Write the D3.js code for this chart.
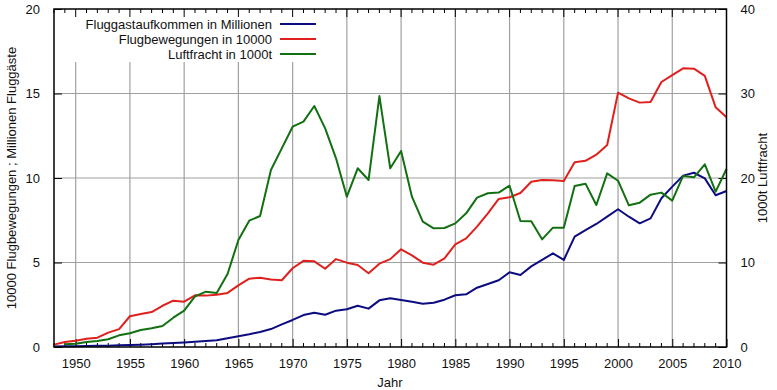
<!DOCTYPE html>
<html><head><meta charset="utf-8">
<script src="https://cdn.jsdelivr.net/npm/d3@7"></script>
<style>body{margin:0;background:#fff}svg{display:block}text{font-family:"Liberation Sans",Arial,sans-serif;font-size:13px;fill:#111}</style>
</head><body><svg id="c" width="777" height="390"></svg>
<script>
const years = d3.range(1948, 2011);
// Fluggastaufkommen in Millionen (left axis), 1948-2010
const passengers = [0.03,0.04,0.05,0.06,0.07,0.08,0.10,0.12,0.14,0.17,0.20,0.23,0.27,0.31,0.36,0.40,0.52,0.64,0.75,0.89,1.06,1.34,1.60,1.89,2.03,1.91,2.15,2.23,2.44,2.27,2.76,2.88,2.78,2.68,2.56,2.62,2.80,3.06,3.12,3.51,3.73,3.95,4.42,4.26,4.77,5.15,5.54,5.15,6.53,6.92,7.28,7.71,8.15,7.71,7.32,7.61,8.80,9.49,10.14,10.31,9.98,8.98,9.23];
// Flugbewegungen in 10000 (left axis), 1948-2010
const movements = [0.14,0.30,0.37,0.49,0.55,0.85,1.06,1.82,1.95,2.07,2.44,2.74,2.68,3.06,3.04,3.09,3.20,3.65,4.04,4.10,4.00,3.95,4.66,5.10,5.07,4.63,5.20,4.99,4.85,4.36,4.93,5.20,5.78,5.42,4.99,4.87,5.25,6.07,6.43,7.12,7.91,8.76,8.86,9.11,9.78,9.88,9.86,9.82,10.93,11.02,11.38,11.95,15.05,14.71,14.46,14.50,15.68,16.09,16.49,16.47,16.04,14.18,13.59];
// Luftfracht in 1000t (right axis), 1949-2010
const freightYears = d3.range(1949, 2011);
const freight = [0.32,0.39,0.59,0.71,0.91,1.38,1.62,2.01,2.21,2.49,3.47,4.30,6.00,6.55,6.39,8.64,12.66,14.95,15.50,20.95,23.50,26.07,26.67,28.52,25.88,22.33,17.79,21.15,19.76,29.70,21.15,23.20,17.79,14.83,14.04,14.08,14.63,15.82,17.67,18.19,18.27,19.09,14.91,14.87,12.74,14.12,14.12,19.05,19.33,16.80,20.55,19.68,16.77,17.08,18.03,18.27,17.32,20.24,20.08,21.62,18.38,21.07];
const xTicks = d3.range(1950, 2011, 5);
const yTicks = [0,5,10,15,20];
const y2Ticks = [0,10,20,30,40];
const legendLabels = ["Fluggastaufkommen in Millionen","Flugbewegungen in 10000","Luftfracht in 1000t"];
const colors = ["#0c0c80","#e0201c","#127012"];

const svg = d3.select("#c");
const L=54, R=726.5, T=9, B=347;
const x = d3.scaleLinear().domain([1948,2010]).range([L,R]);
const y = d3.scaleLinear().domain([0,20]).range([B,T]);
const y2 = d3.scaleLinear().domain([0,40]).range([B,T]);

// grid
const g = svg.append("g");
g.selectAll("line.v").data(xTicks.filter(d=>d<2010)).join("line")
  .attr("x1",d=>x(d)).attr("x2",d=>x(d)).attr("y1",T).attr("y2",B)
  .attr("stroke","#a0a0a0").attr("stroke-width",1.2);
g.selectAll("line.h").data(yTicks.filter(d=>d>0&&d<20)).join("line")
  .attr("x1",L).attr("x2",R).attr("y1",d=>y(d)).attr("y2",d=>y(d))
  .attr("stroke","#a0a0a0").attr("stroke-width",1.2);

// legend background
svg.append("rect").attr("x",62).attr("y",T+1).attr("width",262).attr("height",52).attr("fill","#fff");

// axes
const axB = d3.axisBottom(x).tickValues(xTicks).tickFormat(d3.format("d")).tickSizeInner(-8).tickSizeOuter(0).tickPadding(12);
const aB = svg.append("g").attr("transform",`translate(0,${B})`).call(axB);
const minor = years.filter(d=>d%5!==0);
svg.append("g").selectAll("line").data(minor).join("line")
  .attr("x1",d=>x(d)).attr("x2",d=>x(d)).attr("y1",B).attr("y2",B-4).attr("stroke","#000");
svg.append("g").selectAll("line").data(minor).join("line")
  .attr("x1",d=>x(d)).attr("x2",d=>x(d)).attr("y1",T).attr("y2",T+4).attr("stroke","#000");
svg.append("g").selectAll("line").data(xTicks).join("line")
  .attr("x1",d=>x(d)).attr("x2",d=>x(d)).attr("y1",T).attr("y2",T+8).attr("stroke","#000");
const axL = d3.axisLeft(y).tickValues(yTicks).tickSizeInner(-8).tickSizeOuter(0).tickPadding(14);
const aL = svg.append("g").attr("transform",`translate(${L},0)`).call(axL);
const axR = d3.axisRight(y2).tickValues(y2Ticks).tickSizeInner(-8).tickSizeOuter(0).tickPadding(14);
const aR = svg.append("g").attr("transform",`translate(${R},0)`).call(axR);
[aB,aL,aR].forEach(a=>{a.select(".domain").remove();a.selectAll("text").style("font-family","'Liberation Sans',Arial,sans-serif").style("font-size","13px").attr("fill","#111");a.selectAll("line").attr("stroke","#000");});

// lines
const line = (xs,ys,sc)=>d3.line().x((d,i)=>x(xs[i])).y(d=>sc(d));
svg.append("path").datum(passengers).attr("d",line(years,passengers,y)).attr("fill","none").attr("stroke",colors[0]).attr("stroke-width",2).attr("stroke-linejoin","round");
svg.append("path").datum(movements).attr("d",line(years,movements,y)).attr("fill","none").attr("stroke",colors[1]).attr("stroke-width",2).attr("stroke-linejoin","round");
svg.append("path").datum(freight).attr("d",line(freightYears,freight,y2)).attr("fill","none").attr("stroke",colors[2]).attr("stroke-width",2).attr("stroke-linejoin","round");

// frame
svg.append("rect").attr("x",L).attr("y",T).attr("width",R-L).attr("height",B-T).attr("fill","none").attr("stroke","#000").attr("stroke-width",1.5);

// legend
const lg = svg.append("g");
legendLabels.forEach((t,i)=>{
  const yy = 24 + i*15;
  lg.append("text").attr("x",272).attr("y",yy).attr("dy","0.35em").attr("text-anchor","end").text(t);
  lg.append("line").attr("x1",280).attr("x2",316).attr("y1",yy).attr("y2",yy).attr("stroke",colors[i]).attr("stroke-width",2);
});

// axis labels
svg.append("text").attr("x",390).attr("y",387).attr("text-anchor","middle").text("Jahr");
svg.append("text").attr("transform","translate(16,178) rotate(-90)").attr("text-anchor","middle").text("10000 Flugbewegungen ; Millionen Fluggäste");
svg.append("text").attr("transform","translate(767,178) rotate(-90)").attr("text-anchor","middle").text("1000t Luftfracht");
</script></body></html>
